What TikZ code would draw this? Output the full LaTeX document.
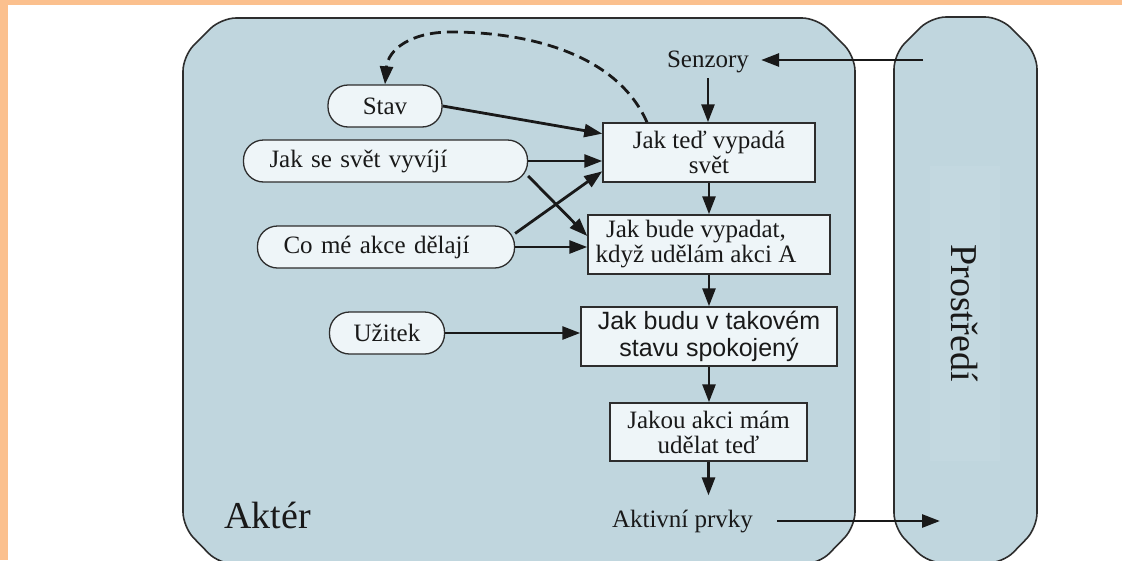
\documentclass[tikz,border=0pt]{standalone}
\usepackage{fontspec}
\setmainfont{Liberation Serif}
\newfontfamily\boxsans{Liberation Sans}
\usetikzlibrary{arrows.meta,calc}
\definecolor{framebg}{RGB}{251,192,142}
\definecolor{panel}{RGB}{192,214,222}
\definecolor{panelhi}{RGB}{195,216,224}
\definecolor{cell}{RGB}{238,245,248}
\definecolor{edge}{RGB}{45,45,45}
\begin{document}
\begin{tikzpicture}[x=1pt,y=-1pt,
  every node/.style={font=\fontsize{25}{25}\selectfont, text=black!90},
  arr/.style={line width=2.8pt, draw=black!90, -{Triangle[length=18pt,width=13pt]}},
  pill/.style={draw=edge, line width=1.3pt, fill=cell, rectangle, rounded corners=20pt,
    minimum height=42pt, inner sep=0pt},
  leftpill/.style={pill, inner xsep=26pt, align=left},
  cellbox/.style={draw=edge, line width=1.5pt, fill=cell, rectangle,
    minimum height=59pt, inner sep=0pt, align=center},
  panelshape/.style={draw=edge, line width=1.6pt, fill=panel, rounded corners=15pt},
  bigtext/.style={font=\fontsize{38}{38}\selectfont},
]
\useasboundingbox (0,0) rectangle (1122,560);
\fill[white] (0,0) rectangle (1122,560);
\fill[framebg] (0,0) rectangle (1122,5);
\fill[framebg] (0,0) rectangle (8,560);

% agent and environment panels
\draw[panelshape] (183,56) -- (221,18) -- (817,18) -- (855,56) -- (855,527)
  -- (819,564) -- (219,564) -- (183,527) -- cycle;
\draw[panelshape] (894,54) -- (931,17) -- (1000,17) -- (1037,54) -- (1037,528)
  -- (1003,563) -- (928,563) -- (894,528) -- cycle;

\node[bigtext, rotate=-90, fill=panelhi, minimum width=295pt, minimum height=70pt]
  (pros) at (965,313) {Prostředí};
\node[bigtext, anchor=base west] (akter) at (221,528) {Aktér};

% sensors and effectors
\node[inner xsep=12pt, inner ysep=5pt] (senz) at (708,62) {Senzory};
\node[inner xsep=24pt, inner ysep=14pt] (akt) at (682.5,521) {Aktivní prvky};
\coordinate (envin) at (923,60);
\coordinate (envout) at (940,519);

% knowledge
\node[pill, minimum width=114pt] (stav) at (385,106) {Stav};
\node[leftpill, text width=232pt, minimum width=284pt] (jsv) at (385.5,161) {Jak se svět vyvíjí};
\node[leftpill, text width=205pt, minimum width=257pt] (cma) at (386,247) {Co mé akce dělají};
\node[pill, minimum width=115pt] (ut) at (387,333) {Užitek};

% reasoning steps
\node[cellbox, minimum width=212pt] (b1) at (709,152.5) {Jak teď vypadá\\svět};
\node[cellbox, minimum width=242pt] (b2) at (709,244.5) {};
\node[align=center] (b2t) at (696,244.5) {Jak bude vypadat,\\když udělám akci A};
\node[cellbox, minimum width=256pt, font=\boxsans\fontsize{25}{27}\selectfont]
  (b3) at (709,336.5) {Jak budu v takovém\\stavu spokojený};
\node[cellbox, minimum width=197pt, minimum height=58pt] (b4) at (708.5,432) {Jakou akci mám\\udělat teď};

% connectors
\draw[arr] (envin) -- (envin -| senz.east);
\draw[arr] (senz.south) -- (senz.south |- b1.north);
\draw[arr] (stav.east) -- (b1.170);
\draw[arr] (jsv.east) -- (jsv.east -| b1.west);
\draw[arr] (jsv.-6) -- (b2.176);
\draw[arr] (cma.6) -- (b1.190);
\draw[arr] (cma.east) -- (cma.east -| b2.west);
\draw[arr] (b1.south) -- (b1.south |- b2.north);
\draw[arr] (b2.south) -- (b2.south |- b3.north);
\draw[arr] (ut.east) -- (ut.east -| b3.west);
\draw[arr] (b3.south) -- (b3.south |- b4.north);
\draw[arr] (b4.south) -- (b4.south |- akt.north);
\draw[arr] (akt.east) -- (akt.east -| envout);
\draw[arr, dash pattern=on 11pt off 6pt] (b1.154) .. controls (615,50) and (520,32) .. (451,32)
  .. controls (410,32) and (388,50) .. (stav.north);
\end{tikzpicture}
\end{document}
